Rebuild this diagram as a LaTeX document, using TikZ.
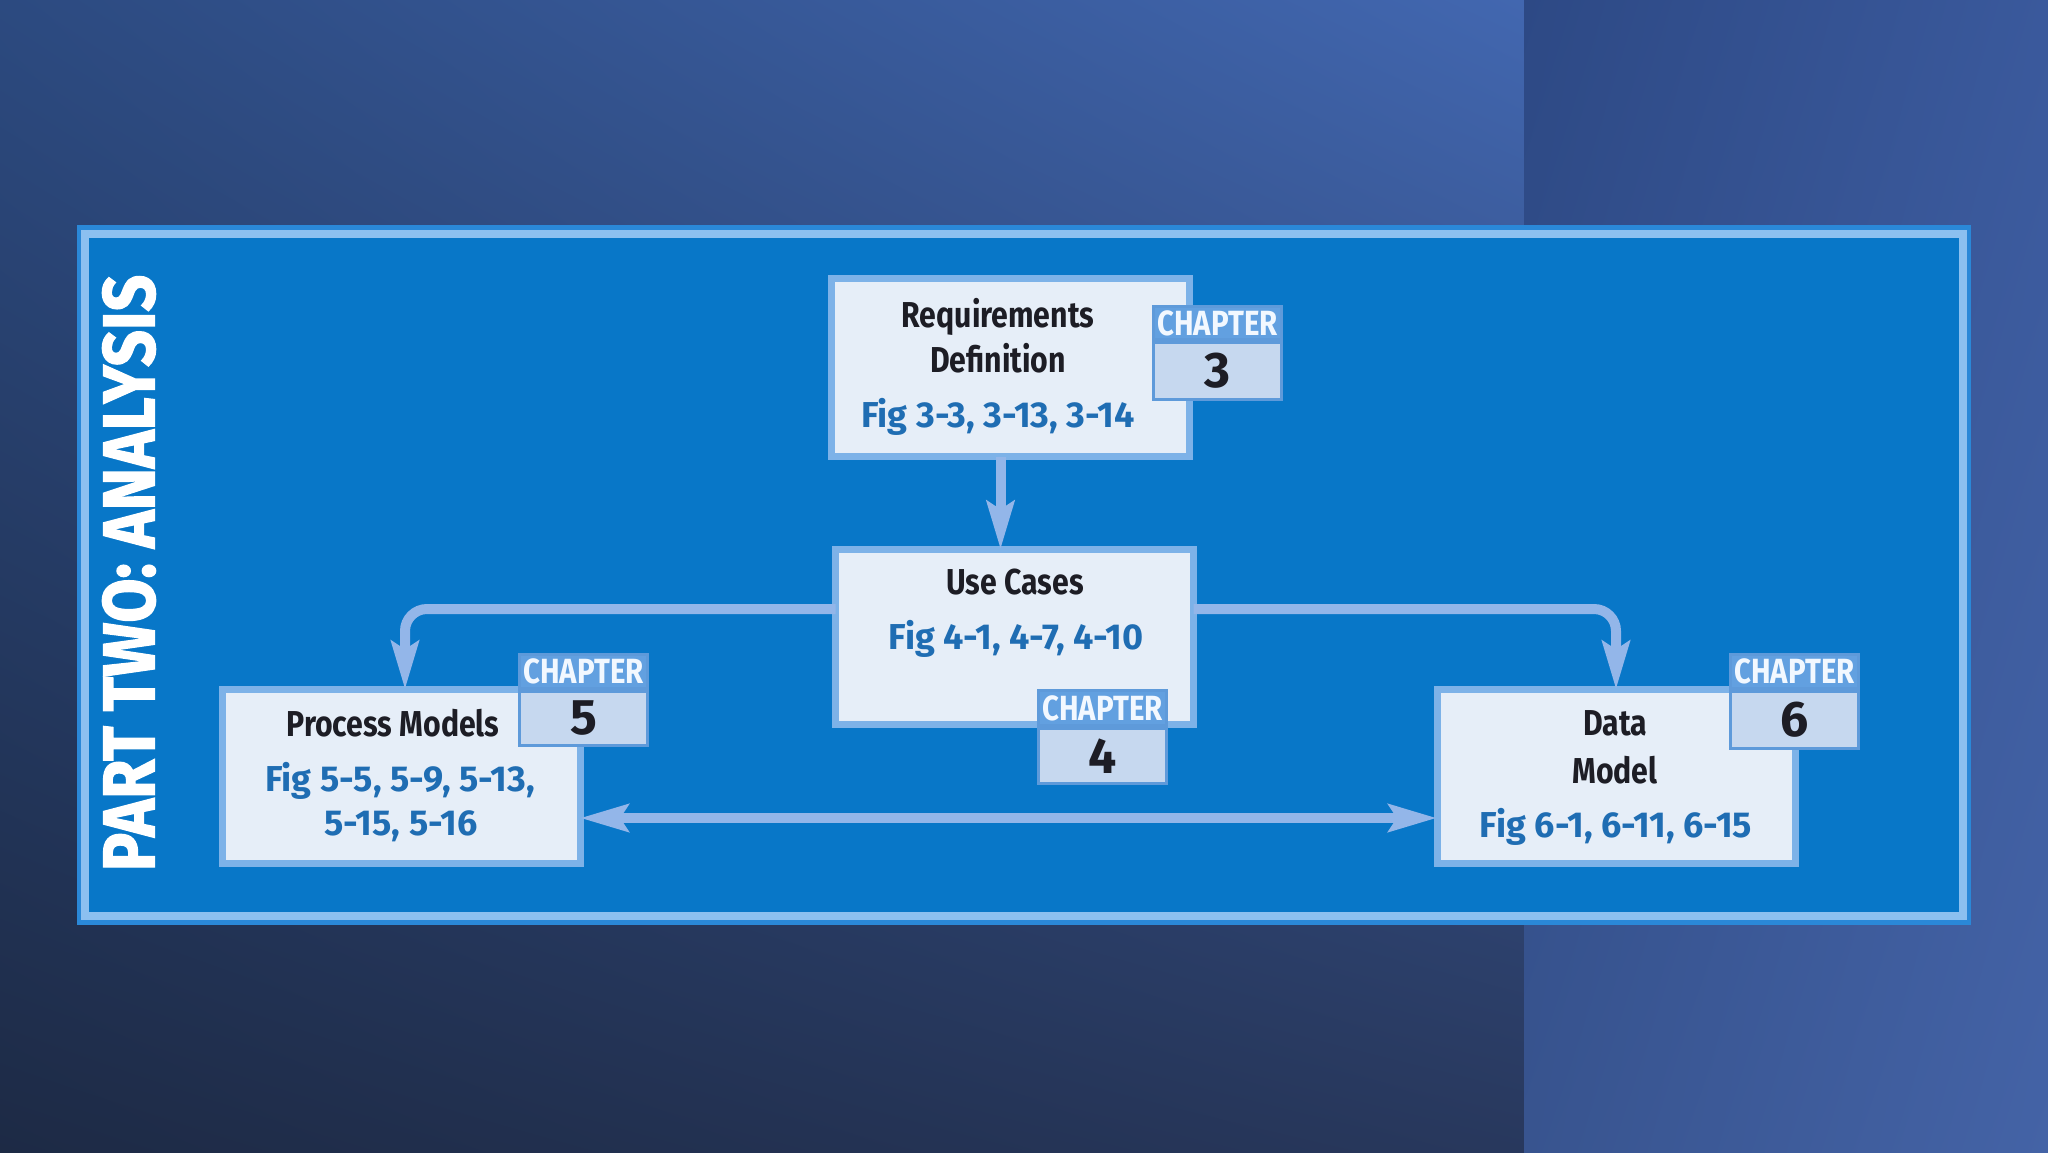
\documentclass[tikz,border=0pt]{standalone}
\usepackage{fontspec}
\setmainfont{Fira Sans}[FakeStretch=0.84]
\newfontfamily\numfam{Fira Sans}
\newfontfamily\heavyfam{Fira Sans}[BoldFeatures={FakeBold=2}]
\usetikzlibrary{arrows.meta,shadings}
\definecolor{lul}{HTML}{2C4A80}
\definecolor{lur}{HTML}{4267B0}
\definecolor{lll}{HTML}{1D2A45}
\definecolor{llr}{HTML}{28385D}
\definecolor{rul}{HTML}{2D4985}
\definecolor{rur}{HTML}{3A599C}
\definecolor{rll}{HTML}{38548F}
\definecolor{rlr}{HTML}{4463A6}
\definecolor{frameout}{HTML}{2A88D8}
\definecolor{frameline}{HTML}{8CC0F0}
\definecolor{framefill}{HTML}{0877C8}
\definecolor{boxline}{HTML}{7DB2E8}
\definecolor{boxfill}{HTML}{E6EEF8}
\definecolor{tagline}{HTML}{5E9ADA}
\definecolor{taghead}{HTML}{62A0E0}
\definecolor{tagnum}{HTML}{C6D8EF}
\definecolor{tagtext}{HTML}{F2F8FF}
\definecolor{arrowc}{HTML}{93B6E9}
\definecolor{titlec}{HTML}{1D1D25}
\definecolor{figc}{HTML}{1F6DB3}
\newcommand\mytitlef{\fontsize{36}{40}\selectfont\bfseries}
\newcommand\myfigf{\numfam\fontsize{36}{40}\selectfont\bfseries}
\newcommand\mychapf{\fontsize{35}{38}\selectfont\bfseries}
\newcommand\mynumf{\numfam\fontsize{50}{54}\selectfont\bfseries}
\begin{document}
\begin{tikzpicture}[x=1pt,y=-1pt,
  box/.style={draw=boxline, line width=7pt, fill=boxfill, inner sep=0pt, outer sep=0pt, minimum width=358pt},
  taghd/.style={draw=tagline, line width=3pt, fill=taghead, inner sep=0pt, outer sep=0pt, minimum width=128pt, text=tagtext, font=\mychapf},
  tagno/.style={draw=tagline, line width=3pt, fill=tagnum, inner sep=0pt, outer sep=0pt, minimum width=128pt, text=titlec, font=\mynumf},
  ttl/.style={anchor=base, inner sep=0pt, text=titlec, font=\mytitlef},
  fig/.style={anchor=base, inner sep=0pt, text=figc, font=\myfigf},
  conn/.style={draw=arrowc, line width=10pt, -{Stealth[length=48pt,width=27pt,inset=8pt]}},
  dconn/.style={draw=arrowc, line width=10pt, {Stealth[length=48pt,width=27pt,inset=8pt]}-{Stealth[length=48pt,width=27pt,inset=8pt]}}
]
\useasboundingbox (0,0) rectangle (2048,1152);
% background panels
\shade[upper left=lul, upper right=lur, lower left=lll, lower right=llr]
  (0,0) rectangle (1524,1152);
\shade[upper left=rul, upper right=rur, lower left=rll, lower right=rlr]
  (1524,0) rectangle (2048,1152);
% frame
\fill[frameout] (77,225) rectangle (1971,925);
\draw[draw=frameline, line width=8pt, fill=framefill] (85,234) rectangle (1963,916);
\node[rotate=90, text=white, inner sep=0pt] (parttitle) at (129,573)
  {\resizebox{596pt}{52pt}{\heavyfam\bfseries PART TWO: ANALYSIS}};
% boxes
\node[box, minimum height=178pt] (req) at (1010.5,367.5) {};
\node[box, minimum height=175pt] (use) at (1014.5,637) {};
\node[box, minimum height=174pt] (proc) at (401,776.5) {};
\node[box, minimum height=174pt] (data) at (1616,776.5) {};
% connectors
\draw[conn] ([xshift=-10pt]req.south) -- ([xshift=-10pt]req.south |- use.north);
\draw[conn, rounded corners=22pt] ([yshift=28pt]use.west) -| ([xshift=4pt]proc.north);
\draw[conn, rounded corners=22pt] ([yshift=28pt]use.east) -| (data.north);
\draw[dconn] ([yshift=-41.5pt]proc.east) -- ([yshift=-41.5pt]data.west);
% box texts
\node[ttl] (reqa) at (998,327) {Requirements};
\node[ttl] (reqb) at (998,372) {Definition};
\node[fig] (reqc) at (998,427) {Fig 3-3, 3-13, 3-14};
\node[ttl] (usea) at (1015,594) {Use Cases};
\node[fig] (useb) at (1016,649) {Fig 4-1, 4-7, 4-10};
\node[ttl] (proca) at (393,736) {Process Models};
\node[fig] (procb) at (400,791) {Fig 5-5, 5-9, 5-13,};
\node[fig] (procc) at (401,835) {5-15, 5-16};
\node[ttl] (dataa) at (1615,735) {Data};
\node[ttl] (datab) at (1615,783) {Model};
\node[fig] (datac) at (1616,837) {Fig 6-1, 6-11, 6-15};
% chapter tags
\node[tagno, minimum height=57pt] (c3n) at (1217.5,371) {3};
\node[taghd, minimum height=33pt] (c3h) at (1217.5,323) {CHAPTER};
\node[tagno, minimum height=55pt] (c4n) at (1102.5,756) {4};
\node[taghd, minimum height=35pt] (c4h) at (1102.5,708) {CHAPTER};
\node[tagno, minimum height=54pt] (c5n) at (583.5,718.5) {5};
\node[taghd, minimum height=34pt] (c5h) at (583.5,671.5) {CHAPTER};
\node[tagno, minimum height=57pt] (c6n) at (1794.5,720) {6};
\node[taghd, minimum height=34pt] (c6h) at (1794.5,671.5) {CHAPTER};
\end{tikzpicture}
\end{document}
